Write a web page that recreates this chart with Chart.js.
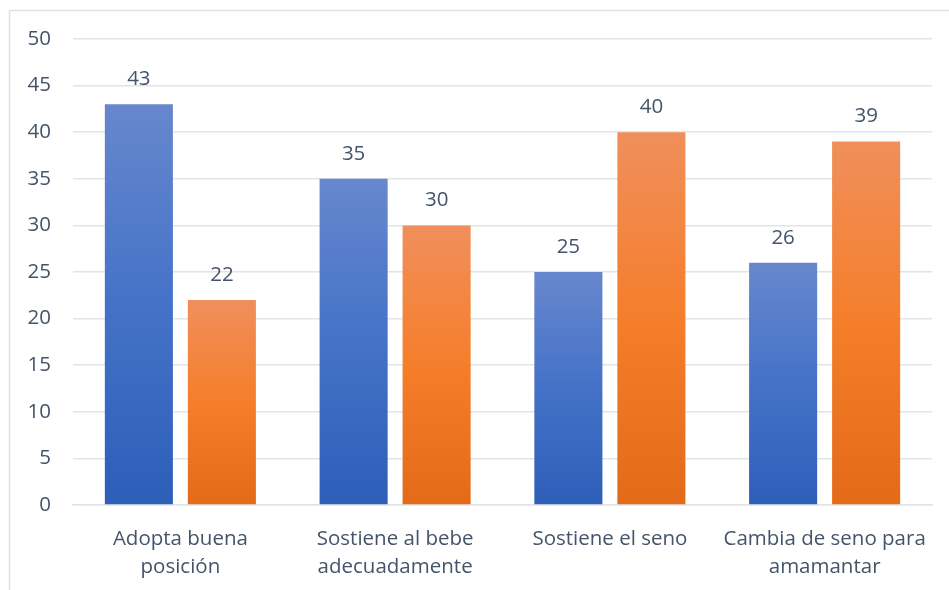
<!DOCTYPE html>
<html>
<head>
<meta charset="utf-8">
<script src="https://cdn.jsdelivr.net/npm/chart.js@4.4.0/dist/chart.umd.min.js"></script>
<style>
  html, body { margin: 0; padding: 0; background: #fff; }
  #wrap { width: 949px; height: 590px; position: relative; }
</style>
</head>
<body>
<div id="wrap"><canvas id="chart"></canvas></div>
<script>
const categories = [
  ["Adopta buena", "posición"],
  ["Sostiene al bebe", "adecuadamente"],
  ["Sostiene el seno"],
  ["Cambia de seno para", "amamantar"],
];
const seriesA = [43, 35, 25, 26];
const seriesB = [22, 30, 40, 39];
const yTicks = [0, 5, 10, 15, 20, 25, 30, 35, 40, 45, 50];

const textColor = "#44546A";
const gridColor = "#E1E4E8";
const fontFamily = "'Open Sans', 'Noto Sans', sans-serif";
const fontSize = 20.5;

// Vertical gradient per bar: light at the top, darker at the base
function barGradient(topColor, midColor, bottomColor) {
  return (ctx) => {
    const chart = ctx.chart;
    if (!chart.chartArea || ctx.raw == null) return midColor;
    const y = chart.scales.y;
    const top = y.getPixelForValue(ctx.raw);
    const bottom = y.getPixelForValue(0);
    const g = chart.ctx.createLinearGradient(0, top, 0, bottom);
    g.addColorStop(0, topColor);
    g.addColorStop(0.5, midColor);
    g.addColorStop(1, bottomColor);
    return g;
  };
}

// Outer frame of the chart
const framePlugin = {
  id: "frame",
  beforeDraw(chart) {
    const c = chart.ctx;
    c.save();
    c.strokeStyle = "#DDE0E4";
    c.lineWidth = 1.5;
    c.strokeRect(9.5, 10.5, 1000, 700);
    c.restore();
  },
};

// Value labels above every bar
const valueLabels = {
  id: "valueLabels",
  afterDatasetsDraw(chart) {
    const c = chart.ctx;
    c.save();
    c.fillStyle = textColor;
    c.font = fontSize + "px " + fontFamily;
    c.textAlign = "center";
    c.textBaseline = "middle";
    chart.data.datasets.forEach((ds, i) => {
      chart.getDatasetMeta(i).data.forEach((bar, j) => {
        c.fillText(String(ds.data[j]), bar.x, bar.y - 25);
      });
    });
    c.restore();
  },
};

new Chart(document.getElementById("chart"), {
  type: "bar",
  data: {
    labels: categories,
    datasets: [
      {
        label: "Serie 1",
        data: seriesA,
        backgroundColor: barGradient("#6787CD", "#4472C8", "#2D5EB8"),
        borderWidth: 0,
      },
      {
        label: "Serie 2",
        data: seriesB,
        backgroundColor: barGradient("#F08F5B", "#F57E2B", "#E26A18"),
        borderWidth: 0,
      },
    ],
  },
  options: {
    responsive: true,
    maintainAspectRatio: false,
    animation: false,
    layout: { padding: { top: 39, right: 17, bottom: 0, left: 0 } },
    datasets: {
      bar: { barPercentage: 0.82, categoryPercentage: 0.773 },
    },
    plugins: {
      legend: { display: false },
      tooltip: { enabled: false },
    },
    scales: {
      x: {
        afterFit: (axis) => {
          axis.height = 85;
        },
        grid: { display: false },
        border: { display: true, color: gridColor, width: 1.5 },
        ticks: {
          color: textColor,
          font: { family: fontFamily, size: fontSize, lineHeight: 1.37 },
          padding: 12,
          maxRotation: 0,
          autoSkip: false,
        },
      },
      y: {
        min: 0,
        max: 50,
        afterBuildTicks: (axis) => {
          axis.ticks = yTicks.map((v) => ({ value: v }));
        },
        afterFit: (axis) => {
          axis.width = 73;
        },
        grid: { color: gridColor, lineWidth: 1.5, drawTicks: false },
        border: { display: false },
        ticks: {
          color: textColor,
          font: { family: fontFamily, size: fontSize },
          padding: 22,
        },
      },
    },
  },
  plugins: [framePlugin, valueLabels],
});
</script>
</body>
</html>
